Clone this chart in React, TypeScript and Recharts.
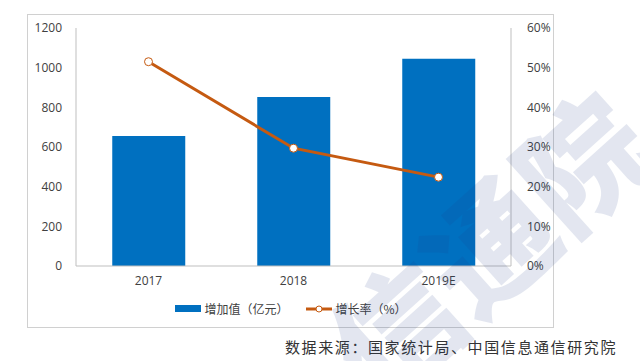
import React from 'react';
import { ComposedChart, Bar, Line, XAxis, YAxis } from 'recharts';

const categories = ['2017', '2018', '2019E'];
const addedValue = [655, 852, 1045];
const growthRate = [51.5, 29.7, 22.4];
const leftTicks = [0, 200, 400, 600, 800, 1000, 1200];
const rightTicks = [0, 10, 20, 30, 40, 50, 60];
const barName = '增加值（亿元）';
const lineName = '增长率（%）';
const sourceText = '数据来源：国家统计局、中国信息通信研究院';

const data = categories.map((c, i) => ({ name: c, value: addedValue[i], rate: growthRate[i] }));

const font = '"Open Sans", "Noto Sans CJK SC", sans-serif';

export default function App() {
  return (
    <div style={{ position: 'absolute', left: 0, top: 0, width: 640, height: 361, background: '#fff', overflow: 'hidden' }}>
      <div style={{ position: 'absolute', left: 27, top: 14, width: 525, height: 312, border: '1px solid #d0d0d0' }} />
      <div style={{ position: 'absolute', left: 0, top: 0 }}>
        <ComposedChart width={640} height={361} data={data} margin={{ top: 28, right: 89, bottom: 65, left: 0 }} barCategoryGap="25%">
          <XAxis dataKey="name" height={30} axisLine={{ stroke: '#bfbfbf' }} tickLine={false} tick={{ fill: '#404040', fontSize: 12, fontFamily: font }} dy={2} />
          <YAxis yAxisId="left" width={76} domain={[0, 1200]} ticks={leftTicks} axisLine={{ stroke: '#bfbfbf' }} tickLine={false} tick={{ fill: '#404040', fontSize: 12, fontFamily: font }} dx={-6} />
          <YAxis yAxisId="right" orientation="right" width={40} domain={[0, 60]} ticks={rightTicks} tickFormatter={(v: number) => `${v}%`} axisLine={{ stroke: '#bfbfbf' }} tickLine={false} tick={{ fill: '#404040', fontSize: 12, fontFamily: font, textAnchor: 'start' }} dx={8} />
          <Bar yAxisId="left" dataKey="value" name={barName} fill="#0070C0" isAnimationActive={false} />
          <Line yAxisId="right" dataKey="rate" name={lineName} stroke="#C55A11" strokeWidth={3} dot={{ r: 4, fill: '#fff', stroke: '#C55A11', strokeWidth: 1 }} isAnimationActive={false} />
        </ComposedChart>
      </div>
      <div style={{ position: 'absolute', left: 0, top: 300, width: 582, display: 'flex', justifyContent: 'center', alignItems: 'center', fontFamily: '"Noto Sans CJK SC", sans-serif', fontSize: 12, color: '#404040' }}>
        <div style={{ display: 'flex', alignItems: 'center', marginRight: 18 }}>
          <div style={{ width: 26, height: 7, background: '#0070C0', marginRight: 3 }} />
          <span>{barName}</span>
        </div>
        <div style={{ display: 'flex', alignItems: 'center' }}>
          <svg width={26} height={10} style={{ marginRight: 3 }}>
            <line x1={0} y1={5} x2={26} y2={5} stroke="#C55A11" strokeWidth={3} />
            <circle cx={13} cy={5} r={3} fill="#fff" stroke="#C55A11" strokeWidth={1} />
          </svg>
          <span>{lineName}</span>
        </div>
      </div>
      <div style={{ position: 'absolute', left: 285, top: 336, fontFamily: '"Noto Sans CJK SC", sans-serif', fontSize: 15, letterSpacing: 1.6, color: '#333', whiteSpace: 'nowrap' }}>{sourceText}</div>
      <svg width={640} height={361} style={{ position: 'absolute', left: 0, top: 0, pointerEvents: 'none' }}>
        <text x={495} y={292} fontSize={125} fontWeight={900} fill="#1f3c88" opacity={0.12} transform="rotate(-42 495 252)" textAnchor="middle" fontFamily='"Noto Sans CJK SC", sans-serif'>信通院</text>
      </svg>
    </div>
  );
}
